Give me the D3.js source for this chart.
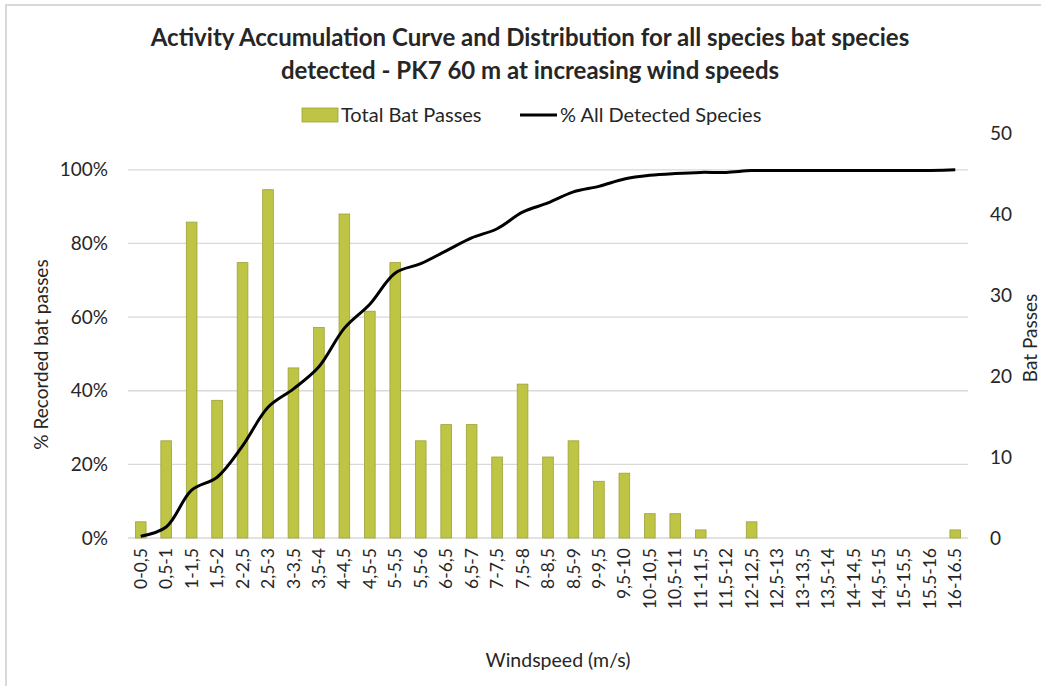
<!DOCTYPE html>
<html>
<head>
<meta charset="utf-8">
<script src="https://cdn.jsdelivr.net/npm/d3@7"></script>
<style>
  body { margin: 0; background: #fff; }
  svg text { font-family: Lato, "Open Sans", sans-serif; fill: #262626; }
</style>
</head>
<body>
<div id="chart"></div>
<script>
// windspeed bins
const categories = ['0-0,5', '0,5-1', '1-1,5', '1,5-2', '2-2,5', '2,5-3', '3-3,5', '3,5-4',
  '4-4,5', '4,5-5', '5-5,5', '5,5-6', '6-6,5', '6,5-7', '7-7,5', '7,5-8', '8-8,5', '8,5-9',
  '9-9,5', '9,5-10', '10-10,5', '10,5-11', '11-11,5', '11,5-12', '12-12,5', '12,5-13',
  '13-13,5', '13,5-14', '14-14,5', '14,5-15', '15-15,5', '15.5-16', '16-16.5'];

// Total Bat Passes (right axis)
const batPasses = [2, 12, 39, 17, 34, 43, 21, 26, 40, 28, 34, 12, 14, 14, 10, 19, 10, 12,
  7, 8, 3, 3, 1, 0, 2, 0, 0, 0, 0, 0, 0, 0, 1];

// % All Detected Species (left axis)
const pctDetected = [0.5, 3.0, 13.0, 16.5, 25.0, 35.5, 40.5, 46.5, 57.0, 63.5, 72.0, 74.5,
  78.0, 81.5, 84.0, 88.5, 91.0, 94.0, 95.5, 97.5, 98.5, 99.0, 99.3, 99.3, 99.8, 99.8,
  99.8, 99.8, 99.8, 99.8, 99.8, 99.8, 100];

const leftTicks = [0, 20, 40, 60, 80, 100];
const rightTicks = [0, 10, 20, 30, 40, 50];

const cfg = {
  width: 1041, height: 686,
  margin: { left: 128, right: 73, top: 133, bottom: 148 }
};

const svg = d3.select('#chart').append('svg')
  .attr('width', cfg.width)
  .attr('height', cfg.height);

// chart frame
svg.append('rect')
  .attr('x', 6).attr('y', 5)
  .attr('width', cfg.width + 10).attr('height', cfg.height + 10)
  .style('fill', 'none')
  .style('stroke', '#d9d9d9')
  .style('stroke-width', 2);

const x0 = cfg.margin.left, x1 = cfg.width - cfg.margin.right;
const yBottom = cfg.height - cfg.margin.bottom, yTop = cfg.margin.top;

const xScale = d3.scaleBand(categories, [x0, x1]).paddingInner(0.58).paddingOuter(0.29);
const yRight = d3.scaleLinear([0, 50], [yBottom, yTop]);
const yLeft = d3.scaleLinear([0, 110], [yBottom, yTop]);

// gridlines
svg.append('g')
  .attr('class', 'gridlines')
  .selectAll('line')
  .data(leftTicks)
  .join('line')
  .attr('x1', x0).attr('x2', x1)
  .attr('y1', d => yLeft(d)).attr('y2', d => yLeft(d))
  .style('stroke', '#d9d9d9')
  .style('stroke-width', 1.3);

// bars
svg.append('g')
  .attr('class', 'bars')
  .selectAll('rect')
  .data(batPasses)
  .join('rect')
  .attr('x', (d, i) => xScale(categories[i]))
  .attr('width', xScale.bandwidth())
  .attr('y', d => yRight(d))
  .attr('height', d => yBottom - yRight(d))
  .style('fill', '#bec443')
  .style('stroke', d => d > 0 ? '#9ea23a' : 'none')
  .style('stroke-width', 0.8);

// accumulation line
const line = d3.line()
  .x((d, i) => xScale(categories[i]) + xScale.bandwidth() / 2)
  .y(d => yLeft(d))
  .curve(d3.curveCatmullRom.alpha(0.5));

svg.append('path')
  .datum(pctDetected)
  .attr('d', line)
  .style('fill', 'none')
  .style('stroke', '#000')
  .style('stroke-width', 3)
  .style('stroke-linejoin', 'round');

// left axis
const yAxisL = d3.axisLeft(yLeft).tickValues(leftTicks).tickFormat(d => d + '%').tickSize(0).tickPadding(20);
svg.append('g')
  .attr('transform', `translate(${x0}, 0)`)
  .call(yAxisL)
  .call(g => g.select('.domain').remove())
  .selectAll('text')
  .style('font-size', '19px')
  .style('font-family', 'Lato, sans-serif')
  .attr('fill', '#262626');

// right axis
const yAxisR = d3.axisRight(yRight).tickValues(rightTicks).tickSize(0).tickPadding(22);
svg.append('g')
  .attr('transform', `translate(${x1}, 0)`)
  .call(yAxisR)
  .call(g => g.select('.domain').remove())
  .selectAll('text')
  .style('font-size', '19px')
  .style('font-family', 'Lato, sans-serif')
  .attr('fill', '#262626');

// x axis
const xAxis = d3.axisBottom(xScale).tickSize(0).tickPadding(0);
svg.append('g')
  .attr('transform', `translate(0, ${yBottom})`)
  .call(xAxis)
  .call(g => g.select('.domain').remove())
  .selectAll('text')
  .attr('transform', 'rotate(-90)')
  .attr('x', -10)
  .attr('y', 0)
  .attr('dy', '0.35em')
  .style('text-anchor', 'end')
  .style('font-size', '17.5px')
  .style('font-family', 'Lato, sans-serif')
  .attr('fill', '#262626');

// titles
svg.append('text')
  .attr('x', 530).attr('y', 46)
  .attr('text-anchor', 'middle')
  .style('font-size', '24px').style('font-weight', 'bold')
  .text('Activity Accumulation Curve and Distribution for all species bat species');
svg.append('text')
  .attr('x', 530).attr('y', 79)
  .attr('text-anchor', 'middle')
  .style('font-size', '24px').style('font-weight', 'bold')
  .text('detected - PK7 60 m at increasing wind speeds');

svg.append('text')
  .attr('x', 558).attr('y', 667)
  .attr('text-anchor', 'middle')
  .style('font-size', '19.5px')
  .text('Windspeed (m/s)');

svg.append('text')
  .attr('transform', `translate(48, ${(yTop + yBottom) / 2 + 19}) rotate(-90)`)
  .attr('text-anchor', 'middle')
  .style('font-size', '19px')
  .text('% Recorded bat passes');

svg.append('text')
  .attr('transform', `translate(1037, 338) rotate(-90)`)
  .attr('text-anchor', 'middle')
  .style('font-size', '19px')
  .text('Bat Passes');

// legend
const legend = svg.append('g').attr('class', 'legend');
legend.append('rect')
  .attr('x', 302).attr('y', 108).attr('width', 36).attr('height', 14)
  .style('fill', '#bec443').style('stroke', '#9ea23a').style('stroke-width', 0.8);
legend.append('text')
  .attr('x', 341).attr('y', 122)
  .style('font-size', '20px')
  .text('Total Bat Passes');
legend.append('line')
  .attr('x1', 520).attr('x2', 557).attr('y1', 115).attr('y2', 115)
  .style('stroke', '#000').style('stroke-width', 3);
legend.append('text')
  .attr('x', 560).attr('y', 122)
  .style('font-size', '20px')
  .text('% All Detected Species');
</script>
</body>
</html>
